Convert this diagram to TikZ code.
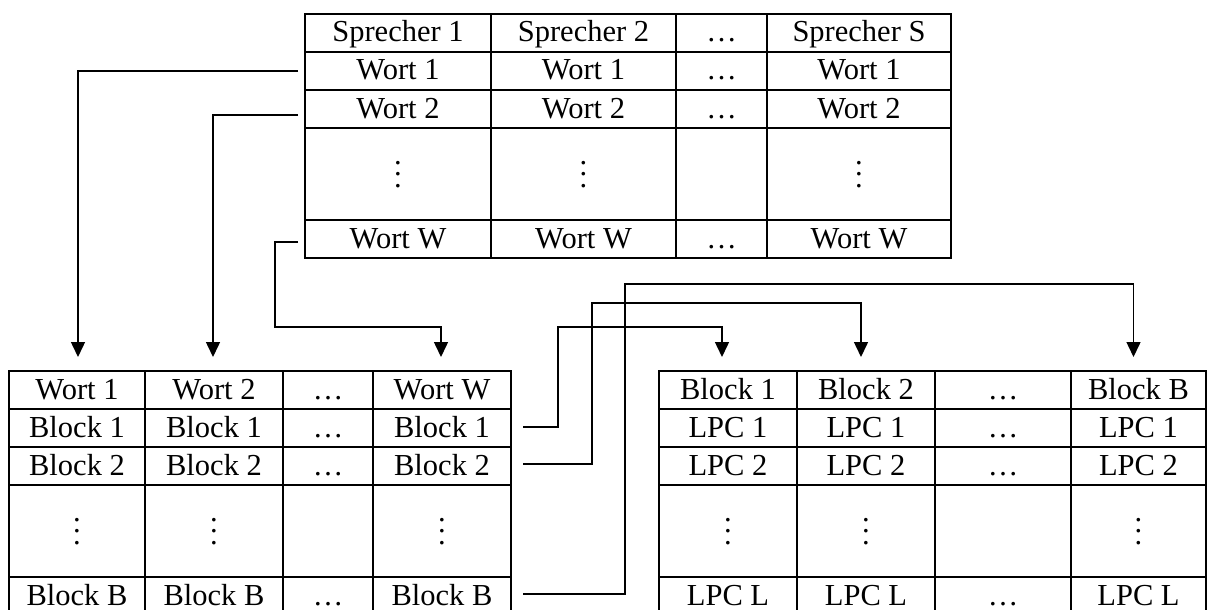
\documentclass[tikz,border=0pt]{standalone}
\usepackage{fontspec}
\setmainfont{Liberation Serif}
\usetikzlibrary{arrows.meta,calc}
\newcommand\vd{\raisebox{-4pt}{\vbox{\baselineskip=11.5pt\lineskiplimit=-20pt\hbox{.}\hbox{.}\hbox{.}}}}
\newcommand\mkcell[6]{\node[cell,minimum width={(#3-#2)*1pt},minimum height={(#5-#4)*1pt}] (#1) at ({(#2+#3)/2},{(#4+#5)/2}) {#6};}
\tikzset{
  cell/.style={draw,line width=2pt,inner sep=0pt,text height=25pt,text depth=7pt,
    font=\fontsize{30.5pt}{36pt}\selectfont},
  conn/.style={line width=1.5pt},
  arr/.style={conn,-{Triangle[width=14pt,length=15pt]}}
}
\begin{document}
\begin{tikzpicture}[x=1pt,y=-1pt]
\useasboundingbox (0,0) rectangle (1207,610);
% top table
\foreach \ya/\yb/\r/\ta/\tb/\tc/\td in {
  14/52/1/Sprecher 1/Sprecher 2/…/Sprecher S,
  52/90/2/Wort 1/Wort 1/…/Wort 1,
  90/128/3/Wort 2/Wort 2/…/Wort 2,
  128/220/4/\vd/\vd/{}/\vd,
  220/258/5/Wort W/Wort W/…/Wort W}{
  \mkcell{T\r1}{305}{491}{\ya}{\yb}{\ta}
  \mkcell{T\r2}{491}{676}{\ya}{\yb}{\tb}
  \mkcell{T\r3}{676}{767}{\ya}{\yb}{\tc}
  \mkcell{T\r4}{767}{951}{\ya}{\yb}{\td}
}
% left table
\foreach \ya/\yb/\r/\ta/\tb/\tc/\td in {
  371/409/1/Wort 1/Wort 2/…/Wort W,
  409/447/2/Block 1/Block 1/…/Block 1,
  447/485/3/Block 2/Block 2/…/Block 2,
  485/577/4/\vd/\vd/{}/\vd,
  577/615/5/Block B/Block B/…/Block B}{
  \mkcell{L\r1}{9}{145}{\ya}{\yb}{\ta}
  \mkcell{L\r2}{145}{283}{\ya}{\yb}{\tb}
  \mkcell{L\r3}{283}{373}{\ya}{\yb}{\tc}
  \mkcell{L\r4}{373}{511}{\ya}{\yb}{\td}
}
% right table
\foreach \ya/\yb/\r/\ta/\tb/\tc/\td in {
  371/409/1/Block 1/Block 2/…/Block B,
  409/447/2/LPC 1/LPC 1/…/LPC 1,
  447/485/3/LPC 2/LPC 2/…/LPC 2,
  485/577/4/\vd/\vd/{}/\vd,
  577/615/5/LPC L/LPC L/…/LPC L}{
  \mkcell{R\r1}{659}{797}{\ya}{\yb}{\ta}
  \mkcell{R\r2}{797}{935}{\ya}{\yb}{\tb}
  \mkcell{R\r3}{935}{1071}{\ya}{\yb}{\tc}
  \mkcell{R\r4}{1071}{1206}{\ya}{\yb}{\td}
}
% connector end points
\coordinate (s1) at ($(T21.west)+(-6pt,0pt)$);
\coordinate (s2) at ($(T31.west)+(-6pt,-6pt)$);
\coordinate (s3) at ($(T51.west)+(-6pt,-3pt)$);
\coordinate (a1) at ($(L11.north)+(1pt,13pt)$);
\coordinate (a2) at ($(L12.north)+(-1pt,13pt)$);
\coordinate (a3) at ($(L14.north)+(-1pt,13pt)$);
\coordinate (k3) at (275,327);
\coordinate (u1) at ($(L24.east)+(11pt,1pt)$);
\coordinate (u2) at ($(L34.east)+(11pt,2pt)$);
\coordinate (u3) at ($(L54.east)+(11pt,2pt)$);
\coordinate (m1) at (558,327);
\coordinate (m2) at (592,303);
\coordinate (m3) at (625,284);
\coordinate (b1) at ($(R11.north)+(-6pt,13pt)$);
\coordinate (b2) at ($(R12.north)+(-5pt,13pt)$);
\coordinate (b3) at ($(R14.north)+(-5pt,13pt)$);
% connectors
\draw[arr] (s1) -| (a1);
\draw[arr] (s2) -| (a2);
\draw[arr] (s3) -| (k3) -| (a3);
\draw[arr] (u1) -| (m1) -| (b1);
\draw[arr] (u2) -| (m2) -| (b2);
\draw[arr] (u3) -| (m3) -| (b3);
\end{tikzpicture}
\end{document}
